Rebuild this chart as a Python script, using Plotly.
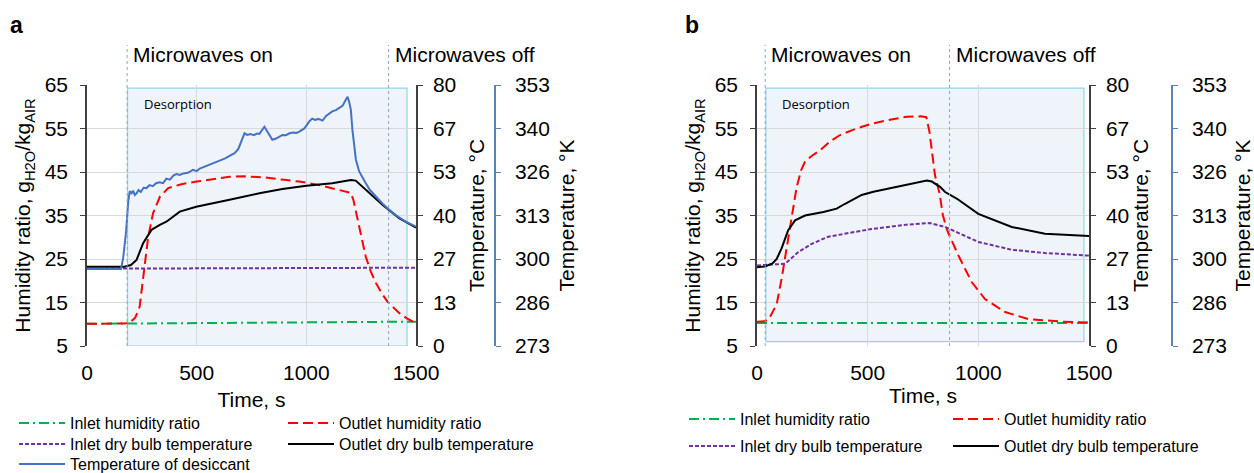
import plotly.graph_objects as go

W, H = 1254, 473
def px(x): return x / W
def py(y): return 1 - y / H

# ---------------- data: panel a ----------------
a_t_in_hr = [0, 300, 600, 900, 1200, 1500]
a_in_hr = [10.1, 10.2, 10.3, 10.4, 10.5, 10.6]

a_t_out_hr = [0, 175, 200, 220, 240, 256, 279, 301, 332, 370, 430, 500, 650, 720, 800, 900, 968, 1050, 1118, 1203,
              1215, 1232, 1255, 1271, 1295, 1317, 1345, 1370, 1400, 1423, 1460, 1500]
a_out_hr = [10.1, 10.2, 10.6, 11.5, 14.0, 20.2, 30.1, 35.5, 39.3, 41.3, 42.2, 42.8, 43.9, 44.0, 43.8, 43.2, 42.8, 42.1, 41.3, 40.2,
            38.5, 34.7, 29.4, 25.5, 22.0, 19.5, 17.0, 15.2, 13.7, 12.6, 11.3, 10.2]

a_t_in_db = [0, 500, 1000, 1500]
a_in_db = [23.7, 23.8, 23.9, 24.0]

a_t_out_db = [0, 170, 200, 226, 256, 294, 332, 362, 423, 498, 650, 786, 891, 1000, 1118, 1203, 1225, 1271, 1348, 1423, 1500]
a_out_db = [24.3, 24.3, 24.8, 26.4, 31.5, 35.6, 37.1, 38.1, 41.2, 42.7, 44.8, 46.8, 48.1, 49.1, 49.9, 50.9, 50.7, 47.9, 43.2, 39.2, 36.3]

a_t_des = [0, 155, 165, 178, 188, 195, 203, 210, 218, 226, 235, 245, 258, 271, 285, 300, 315, 330, 347, 362, 378, 395, 408,
           423, 440, 460, 483, 500, 514, 530, 550, 570, 589, 610, 630, 650, 673, 690, 700, 710, 718, 730, 745, 760, 775, 786,
           798, 809, 820, 832, 845, 862, 878, 891, 907, 923, 940, 955, 968, 980, 991, 1005, 1015, 1027, 1040, 1055, 1074,
           1090, 1105, 1118, 1135, 1148, 1165, 1180, 1188, 1195, 1203, 1210, 1218, 1226, 1241, 1256, 1271, 1290, 1317,
           1348, 1377, 1410, 1453, 1500]
a_des = [23.6, 23.6, 27.0, 35.0, 44.3, 47.5, 46.8, 47.6, 46.3, 46.8, 47.8, 47.2, 48.5, 48.4, 49.3, 49.0, 49.9, 50.2, 49.9, 51.3,
         51.0, 52.3, 52.7, 52.4, 52.9, 53.1, 54.0, 53.6, 54.4, 54.8, 55.3, 56.0, 56.5, 57.0, 57.5, 58.3, 59.1, 60.4, 62.1,
         63.6, 65.2, 64.7, 65.0, 64.6, 65.1, 65.0, 66.3, 67.2, 66.0, 64.8, 63.2, 63.6, 64.3, 64.7, 64.6, 65.2, 65.4, 65.3,
         65.7, 66.2, 66.7, 68.0, 69.0, 69.7, 69.3, 69.6, 69.1, 70.5, 71.2, 71.9, 72.3, 72.8, 73.6, 75.5, 76.4, 74.9, 72.4,
         66.3, 61.0, 57.1, 53.5, 51.9, 49.9, 47.8, 45.7, 43.6, 41.8, 40.0, 38.1, 36.6]

# ---------------- data: panel b ----------------
b_t_in_hr = [0, 500, 1000, 1500]
b_in_hr = [10.3, 10.3, 10.3, 10.3]

b_t_out_hr = [0, 36, 55, 66, 89, 111, 134, 157, 179, 200, 217, 250, 285, 330, 375, 450, 526, 600, 676, 740, 765, 779, 804,
              825, 840, 860, 910, 970, 1030, 1121, 1226, 1377, 1500]
b_out_hr = [10.6, 10.7, 11.3, 12.3, 14.6, 20.4, 27.4, 34.3, 41.5, 45.5, 47.4, 48.8, 50.0, 52.0, 53.5, 55.0, 56.2, 57.0, 57.7,
            57.8, 57.6, 54.3, 44.3, 40.0, 35.0, 31.5, 25.8, 19.7, 15.8, 12.8, 11.2, 10.6, 10.4]

b_t_in_db = [0, 127, 187, 247, 322, 503, 676, 782, 850, 1000, 1151, 1301, 1500]
b_in_db = [24.7, 25.2, 28.8, 31.3, 33.5, 35.7, 37.2, 37.7, 36.5, 31.9, 29.5, 28.5, 27.7]

b_t_out_db = [0, 36, 70, 89, 111, 141, 172, 217, 300, 360, 398, 473, 526, 676, 767, 790, 827, 850, 902, 1000, 1151, 1301, 1500]
b_out_db = [24.1, 24.4, 25.3, 26.7, 29.9, 35.5, 38.5, 40.0, 41.1, 42.1, 43.6, 46.3, 47.3, 49.3, 50.7, 50.4, 48.8, 47.2, 45.2,
            40.5, 36.5, 34.4, 33.7]

# events / axes
a_mw_on, a_mw_off = 183, 1375
b_mw_on, b_mw_off = 37, 870
a_desorp = [185, 1459, 5.0, 64.3]
b_desorp = [40, 1477, 6.0, 64.3]
hr_ticks = [5, 15, 25, 35, 45, 55, 65]
c_ticks = [0, 80/6, 160/6, 40, 320/6, 400/6, 80]
c_text = ["0", "13", "27", "40", "53", "67", "80"]
k_ticks = [273 + v for v in c_ticks]
k_text = ["273", "286", "300", "313", "326", "340", "353"]
x_ticks = [0, 500, 1000, 1500]

FONT = "Liberation Sans, Arial, sans-serif"
RED, GREEN, PURPLE, BLUE = "#ff0000", "#00b050", "#7030a0", "#4472c4"
AX = "#404040"
KCOL = "#5b84b1"
GRID = "#d9d9d9"

fig = go.Figure()

def add(x, y, xa, ya, name, color, dash, leg):
    fig.add_trace(go.Scatter(x=x, y=y, xaxis=xa, yaxis=ya, mode="lines", name=name,
                             line=dict(color=color, width=2, dash=dash), legend=leg, showlegend=True))

DASH_R = "10px,5px"
DASH_G = "10px,4px,2px,4px"
DASH_P = "4px,2px"

# panel a
add(a_t_in_hr, a_in_hr, "x", "y", "Inlet humidity ratio", GREEN, DASH_G, "legend")
add(a_t_out_hr, a_out_hr, "x", "y", "Outlet humidity ratio", RED, DASH_R, "legend2")
add(a_t_in_db, a_in_db, "x", "y2", "Inlet dry bulb temperature", PURPLE, DASH_P, "legend3")
add(a_t_out_db, a_out_db, "x", "y2", "Outlet dry bulb temperature", "#000000", "solid", "legend4")
add(a_t_des, a_des, "x", "y2", "Temperature of desiccant", BLUE, "solid", "legend5")
# panel b
add(b_t_in_hr, b_in_hr, "x2", "y4", "Inlet humidity ratio", GREEN, DASH_G, "legend6")
add(b_t_out_hr, b_out_hr, "x2", "y4", "Outlet humidity ratio", RED, DASH_R, "legend7")
add(b_t_in_db, b_in_db, "x2", "y5", "Inlet dry bulb temperature", PURPLE, DASH_P, "legend8")
add(b_t_out_db, b_out_db, "x2", "y5", "Outlet dry bulb temperature", "#000000", "solid", "legend9")

# empty traces so the Kelvin axes are drawn
for xa, ya in (("x", "y3"), ("x2", "y6")):
    fig.add_trace(go.Scatter(x=[], y=[], xaxis=xa, yaxis=ya, mode="lines", showlegend=False, hoverinfo="skip"))

leg_pos = {
    "legend": (19, 423), "legend2": (288, 423), "legend3": (19, 444), "legend4": (288, 444), "legend5": (19, 464),
    "legend6": (689, 419), "legend7": (953, 419), "legend8": (689, 446), "legend9": (953, 446),
}
legends = {}
for k, (lx, ly) in leg_pos.items():
    legends[k] = dict(x=px(lx - 5), y=py(ly), xanchor="left", yanchor="middle", xref="paper", yref="paper",
                      bgcolor="rgba(0,0,0,0)", borderwidth=0, itemwidth=46,
                      font=dict(family=FONT, size=16, color="#000"))

ydom = [py(346), py(85)]
tickfont = dict(family=FONT, size=21, color="#000")
titlefont = dict(family=FONT, size=21, color="#000")

def xax(dom, anchor, standoff):
    return dict(domain=dom, anchor=anchor, range=[0, 1500], tickvals=x_ticks, showgrid=True, gridcolor=GRID,
                gridwidth=1, showline=False, zeroline=False, ticks="", tickfont=tickfont, ticklabelstandoff=12,
                title=dict(text="Time, s", font=titlefont, standoff=standoff), automargin=False, fixedrange=True)

def yleft(anchor):
    return dict(domain=ydom, anchor=anchor, range=[5, 65], tickvals=hr_ticks, showline=True, linecolor=AX,
                linewidth=1.5, ticks="outside", ticklen=5, tickcolor=AX, gridcolor=GRID, gridwidth=1,
                zeroline=False, tickfont=tickfont, ticklabelstandoff=8, automargin=False,
                title=dict(text="Humidity ratio, g<sub>H2O</sub>/kg<sub>AIR</sub>", font=titlefont, standoff=8))

def yc(over, anchor, lso, standoff):
    return dict(overlaying=over, anchor=anchor, side="right", range=[0, 80], tickvals=c_ticks, ticktext=c_text,
                showline=True, linecolor=AX, linewidth=1.5, ticks="outside", ticklen=5, tickcolor=AX,
                showgrid=False, zeroline=False, tickfont=tickfont, ticklabelstandoff=lso, automargin=False,
                title=dict(text="Temperature, °C", font=titlefont, standoff=standoff))

def yk(over, pos, lso, standoff):
    return dict(overlaying=over, anchor="free", position=pos, side="right", range=[273, 353], tickvals=k_ticks,
                ticktext=k_text, showline=True, linecolor=KCOL, linewidth=1.5, ticks="outside", ticklen=5,
                tickcolor=KCOL, showgrid=False, zeroline=False, tickfont=tickfont, ticklabelstandoff=lso,
                automargin=False, title=dict(text="Temperature, °K", font=titlefont, standoff=standoff))

shapes = []
annotations = []
for xr, yr, des, on, off, dlx in [("x", "y", a_desorp, a_mw_on, a_mw_off, 142), ("x2", "y4", b_desorp, b_mw_on, b_mw_off, 780)]:
    shapes.append(dict(type="rect", xref=xr, yref=yr, x0=des[0], x1=des[1], y0=des[2], y1=des[3],
                       fillcolor="#eff4fa", line=dict(color="#8fd6ec", width=1.2), layer="below"))
    for t in (on, off):
        shapes.append(dict(type="line", xref=xr, yref="paper", x0=t, x1=t, y0=py(346), y1=py(45),
                           line=dict(color="#8aa6c4", width=1, dash="dot"), layer="above"))
    annotations.append(dict(xref=xr, yref="paper", x=on, y=py(55), text="Microwaves on", showarrow=False,
                            xanchor="left", yanchor="middle", xshift=4, font=dict(family=FONT, size=21, color="#000")))
    annotations.append(dict(xref=xr, yref="paper", x=off, y=py(55), text="Microwaves off", showarrow=False,
                            xanchor="left", yanchor="middle", xshift=4, font=dict(family=FONT, size=21, color="#000")))
    annotations.append(dict(xref="paper", yref="paper", x=px(dlx), y=py(104), text="Desorption", showarrow=False,
                            xanchor="left", yanchor="middle", font=dict(family="Open Sans", size=13, color="#000")))

annotations.append(dict(xref="paper", yref="paper", x=px(8), y=py(25), text="<b>a</b>", showarrow=False,
                        xanchor="left", yanchor="middle", font=dict(family=FONT, size=23, color="#000")))
annotations.append(dict(xref="paper", yref="paper", x=px(683), y=py(25), text="<b>b</b>", showarrow=False,
                        xanchor="left", yanchor="middle", font=dict(family=FONT, size=23, color="#000")))

fig.update_layout(
    width=W, height=H, autosize=False,
    margin=dict(l=0, r=0, t=0, b=0, pad=0, autoexpand=False),
    paper_bgcolor="#ffffff", plot_bgcolor="#ffffff",
    font=dict(family=FONT, color="#000"),
    xaxis=xax([px(87), px(416)], "y", 9),
    xaxis2=xax([px(757), px(1089)], "y4", 3),
    yaxis=yleft("x"),
    yaxis2=yc("y", "x", 6, 14),
    yaxis3=yk("y", px(495), 10, 9),
    yaxis4=yleft("x2"),
    yaxis5=yc("y4", "x2", 6, 5),
    yaxis6=yk("y4", px(1172), 10, 13),
    shapes=shapes, annotations=annotations,
    **legends,
)

fig.write_html("out.html")
